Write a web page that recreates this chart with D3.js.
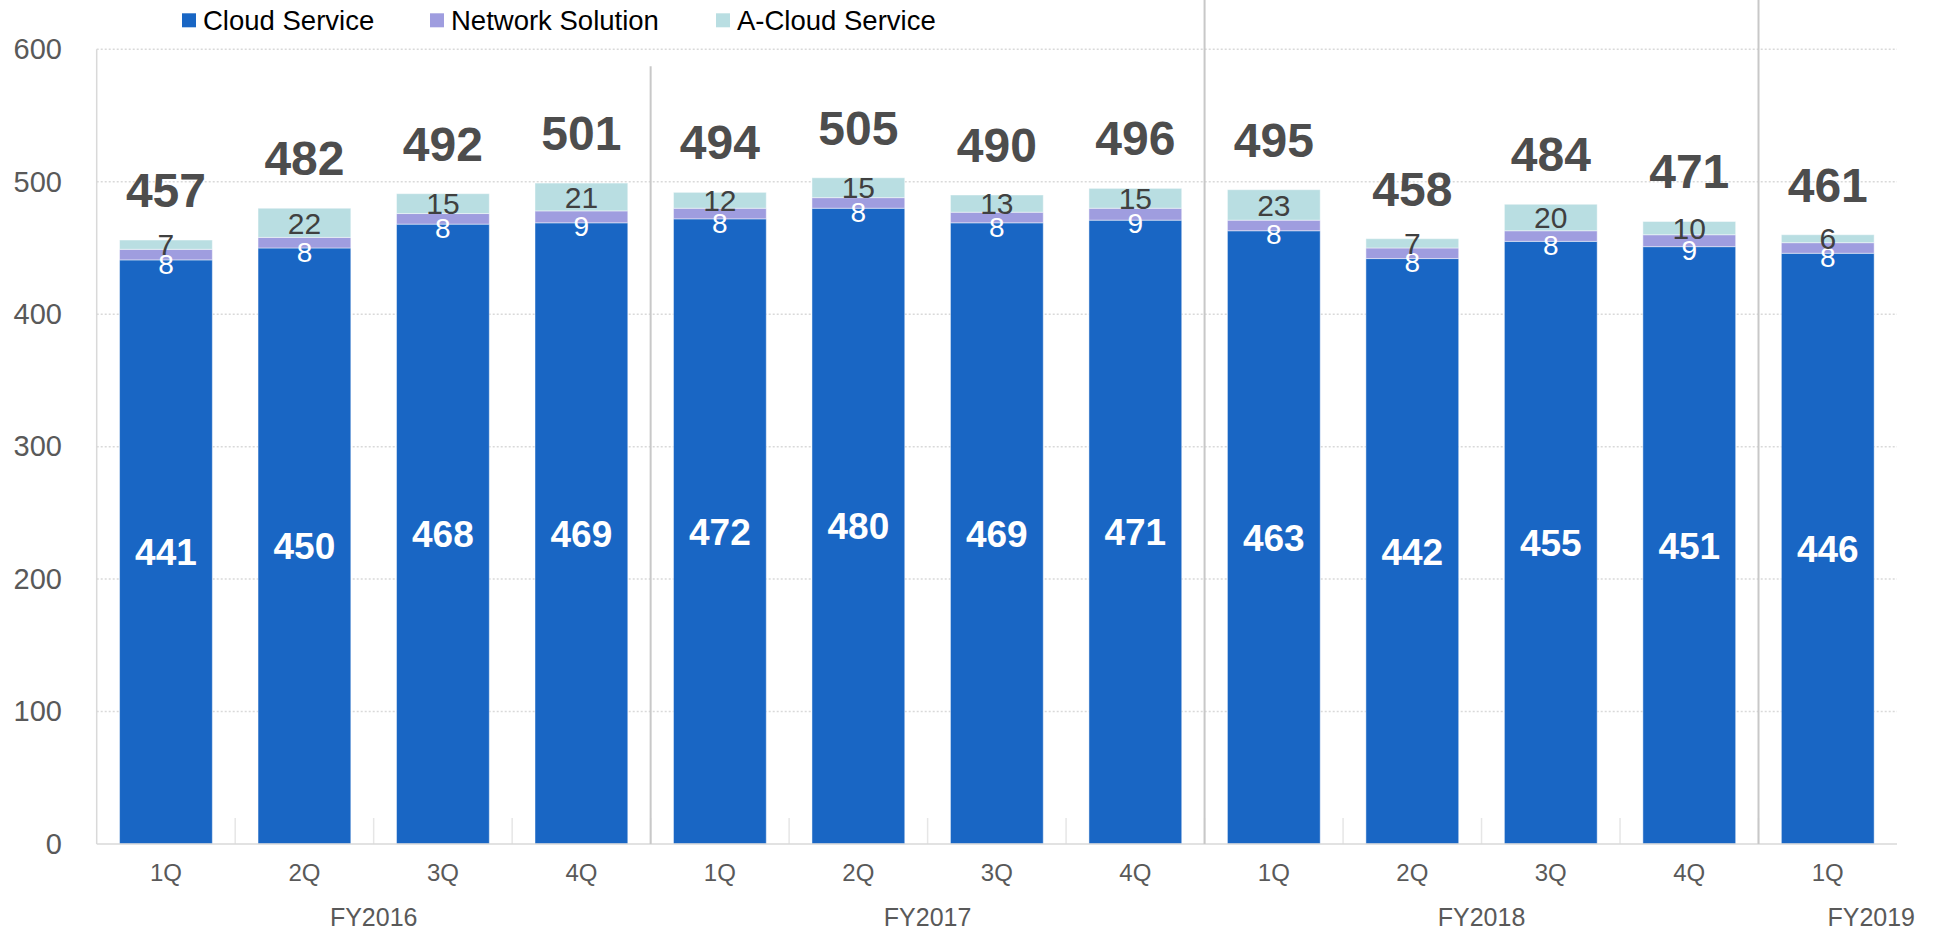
<!DOCTYPE html>
<html>
<head>
<meta charset="utf-8">
<script src="https://cdn.jsdelivr.net/npm/d3@7/dist/d3.min.js"></script>
<style>
  html, body { margin: 0; padding: 0; background: #fff; }
  svg { display: block; font-family: "Liberation Sans", Arial, sans-serif; }
</style>
</head>
<body>
<svg id="chart" width="1937" height="931"></svg>
<script>
// ---- data ----
const quarters = ["1Q","2Q","3Q","4Q","1Q","2Q","3Q","4Q","1Q","2Q","3Q","4Q","1Q"];
const fiscalYears = ["FY2016","FY2017","FY2018","FY2019"];
const fiscalYearCounts = [4,4,4,1];
const cloudService   = [441,450,468,469,472,480,469,471,463,442,455,451,446];
const networkSolution = [8,8,8,9,8,8,8,9,8,8,8,9,8];
const aCloudService  = [7,22,15,21,12,15,13,15,23,7,20,10,6];
const totals         = [457,482,492,501,494,505,490,496,495,458,484,471,461];
const seriesNames = ["Cloud Service","Network Solution","A-Cloud Service"];
const yTicks = [0,100,200,300,400,500,600];

// ---- layout ----
const W = 1937, H = 931;
const plot = {left: 96.7, right: 1897, top: 49.3, bottom: 844};
const colors = ["#1966c4", "#9f9ddf", "#b9dee2"];

const svg = d3.select("#chart");

const x = d3.scaleBand()
  .domain(d3.range(quarters.length))
  .range([plot.left, plot.right])
  .paddingInner(0.33)
  .paddingOuter(0.165);

const y = d3.scaleLinear().domain([0, 600]).range([plot.bottom, plot.top]);

// gridlines
svg.append("g").selectAll("line")
  .data(yTicks.filter(d => d > 0))
  .join("line")
  .attr("x1", plot.left).attr("x2", plot.right)
  .attr("y1", d => y(d)).attr("y2", d => y(d))
  .attr("stroke", "#d9d9d9").attr("stroke-width", 1.5)
  .attr("stroke-dasharray", "2 2");

// left axis line
svg.append("line")
  .attr("x1", plot.left).attr("x2", plot.left)
  .attr("y1", plot.top).attr("y2", plot.bottom)
  .attr("stroke", "#d9d9d9").attr("stroke-width", 1.5);

// y axis labels
const yAxis = d3.axisLeft(y).tickValues(yTicks).tickSize(0).tickPadding(0);
const yg = svg.append("g").attr("transform", `translate(62,0)`).call(yAxis);
yg.select(".domain").remove();
yg.selectAll("text")
  .attr("font-size", 29).attr("fill", "#595959")
  .attr("font-family", "'Liberation Sans', Arial, sans-serif");

// stacked data
const rows = quarters.map((q, i) => ({
  i, c: cloudService[i], n: networkSolution[i], a: aCloudService[i]
}));
const stack = d3.stack().keys(["c","n","a"])(rows);

const step = x.step();
const bandStart = i => x(i) - x.paddingInner() * step / 2;

// faint category tick marks at the baseline
svg.append("g").selectAll("line")
  .data(d3.range(1, quarters.length))
  .join("line")
  .attr("x1", d => bandStart(d)).attr("x2", d => bandStart(d))
  .attr("y1", plot.bottom - 26).attr("y2", plot.bottom)
  .attr("stroke", "#e6e6e6").attr("stroke-width", 1.5);

const layers = svg.append("g").selectAll("g")
  .data(stack).join("g")
  .attr("fill", (d, k) => colors[k]);

layers.selectAll("rect")
  .data(d => d).join("rect")
  .attr("x", d => x(d.data.i))
  .attr("width", x.bandwidth())
  .attr("y", d => y(d[1]))
  .attr("height", d => y(d[0]) - y(d[1]))
  .attr("stroke", "#ffffff").attr("stroke-opacity", 0.45).attr("stroke-width", 1);

// baseline
svg.append("line")
  .attr("x1", plot.left).attr("x2", plot.right)
  .attr("y1", plot.bottom).attr("y2", plot.bottom)
  .attr("stroke", "#d9d9d9").attr("stroke-width", 1.5);

// group separators
let acc = 0;
const sepIdx = [];
fiscalYearCounts.slice(0, -1).forEach(c => { acc += c; sepIdx.push(acc); });
svg.append("g").selectAll("line")
  .data(sepIdx).join("line")
  .attr("x1", d => bandStart(d)).attr("x2", d => bandStart(d))
  .attr("y1", (d, k) => k === 0 ? plot.top + 17 : 0)
  .attr("y2", plot.bottom)
  .attr("stroke", "#c8c8c8").attr("stroke-width", 2);

// Cloud Service labels
svg.append("g").selectAll("text")
  .data(stack[0]).join("text")
  .attr("x", d => x(d.data.i) + x.bandwidth() / 2)
  .attr("y", d => (y(d[0]) + y(d[1])) / 2 + 37 * 0.358)
  .attr("text-anchor", "middle")
  .attr("font-size", 37).attr("font-weight", "bold").attr("fill", "#ffffff")
  .text(d => d.data.c);

// Network Solution labels
svg.append("g").selectAll("text")
  .data(stack[1]).join("text")
  .attr("x", d => x(d.data.i) + x.bandwidth() / 2)
  .attr("y", d => (y(d[0]) + y(d[1])) / 2 + 9 + 28 * 0.358)
  .attr("text-anchor", "middle")
  .attr("font-size", 28).attr("fill", "#ffffff")
  .text(d => d.data.n);

// A-Cloud Service labels
svg.append("g").selectAll("text")
  .data(stack[2]).join("text")
  .attr("x", d => x(d.data.i) + x.bandwidth() / 2)
  .attr("y", d => (y(d[0]) + y(d[1])) / 2 + 30 * 0.358)
  .attr("text-anchor", "middle")
  .attr("font-size", 30).attr("fill", "#404040")
  .text(d => d.data.a);

// totals
svg.append("g").selectAll("text")
  .data(stack[2]).join("text")
  .attr("x", d => x(d.data.i) + x.bandwidth() / 2)
  .attr("y", d => y(d[1]) - 33)
  .attr("text-anchor", "middle")
  .attr("font-size", 48).attr("font-weight", "bold").attr("fill", "#4d4d4d")
  .text(d => totals[d.data.i]);

// quarter labels
svg.append("g").selectAll("text")
  .data(quarters).join("text")
  .attr("x", (d, i) => x(i) + x.bandwidth() / 2)
  .attr("y", 881)
  .attr("text-anchor", "middle")
  .attr("font-size", 24).attr("fill", "#595959")
  .text(d => d);

// fiscal year labels
let start = 0;
const fyData = fiscalYears.map((fy, k) => {
  const s = start; start += fiscalYearCounts[k];
  return {fy, s, e: start};
});
svg.append("g").selectAll("text")
  .data(fyData).join("text")
  .attr("x", (d, k) => k === fyData.length - 1 ? plot.right + 18 : (bandStart(d.s) + bandStart(d.e)) / 2)
  .attr("y", 926)
  .attr("text-anchor", (d, k) => k === fyData.length - 1 ? "end" : "middle")
  .attr("font-size", 25).attr("fill", "#595959")
  .text(d => d.fy);

// legend
const legendX = [182, 430, 716];
const lg = svg.append("g").selectAll("g")
  .data(seriesNames).join("g")
  .attr("transform", (d, k) => `translate(${legendX[k]},0)`);
lg.append("rect").attr("x", 0).attr("y", 13.3).attr("width", 14).attr("height", 14)
  .attr("fill", (d, k) => colors[k]);
lg.append("text").attr("x", 21).attr("y", 29.5)
  .attr("font-size", 27.5).attr("fill", "#000")
  .text(d => d);
</script>
</body>
</html>
